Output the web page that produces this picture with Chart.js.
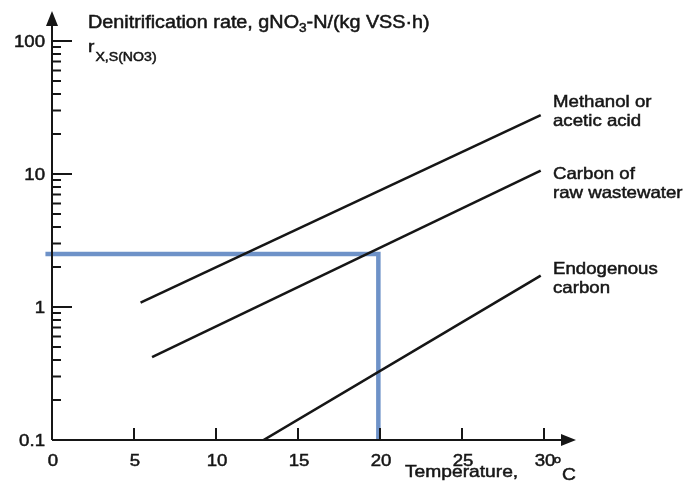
<!DOCTYPE html>
<html>
<head>
<meta charset="utf-8">
<script src="https://cdn.jsdelivr.net/npm/chart.js@4"></script>
<style>
  html, body { margin: 0; padding: 0; background: #fff; }
  canvas { display: block; }
</style>
</head>
<body>
<canvas id="chart" width="691" height="484"></canvas>
<script>
// values (temperature in C, rate on log scale)
var methanolX = [5.4, 29.8];
var methanolY = [1.08, 27.7];
var rawX = [6.1, 29.8];
var rawY = [0.42, 10.6];
var endoX = [12.9, 29.8];
var endoY = [0.1, 1.72];
// blue reading guide
var guideX = [-0.4, 19.9, 19.9];
var guideY = [2.5, 2.5, 0.1];

var xTicks = [0, 5, 10, 15, 20, 25, 30];
var yTicks = [0.1, 1, 10, 100];
var yTickLabels = ['0.1', '1', '10', '100'];
var yMinor = [2, 3, 4, 5, 6, 7, 8, 9];

var seriesLabels = [
    ['Methanol or', 'acetic acid'],
    ['Carbon of', 'raw wastewater'],
    ['Endogenous', 'carbon']
];

var SX = 1.13; // the scan is a bit stretched sideways
var FONT = '"Liberation Sans", Arial, sans-serif';
var INK = '#161616';

function pts(xs, ys) {
    return xs.map(function (x, i) { return { x: x, y: ys[i] }; });
}

function txt(ctx, s, x, y, size, align) {
    ctx.save();
    ctx.font = size + 'px ' + FONT;
    ctx.textAlign = align || 'left';
    ctx.textBaseline = 'alphabetic';
    ctx.translate(x, y);
    ctx.scale(SX, 1);
    ctx.fillText(s, 0, 0);
    // a thin stroke so the letters are as heavy as in the scan
    ctx.lineWidth = 0.5;
    ctx.strokeText(s, 0, 0);
    var w = ctx.measureText(s).width * SX;
    ctx.restore();
    return w;
}

var axesPlugin = {
    id: 'axesPlugin',
    afterDraw: function (chart) {
        var ctx = chart.ctx;
        var xs = chart.scales.x;
        var ys = chart.scales.y;
        var x0 = xs.getPixelForValue(0);
        var y0 = ys.getPixelForValue(0.1);

        ctx.save();
        ctx.strokeStyle = INK;
        ctx.fillStyle = INK;
        ctx.lineWidth = 2;

        // axis lines
        ctx.beginPath();
        ctx.moveTo(x0, y0);
        ctx.lineTo(x0, 24);
        ctx.moveTo(x0, y0);
        ctx.lineTo(563, y0);
        ctx.stroke();

        // arrow heads
        ctx.beginPath();
        ctx.moveTo(x0, 11);
        ctx.lineTo(x0 - 6, 26);
        ctx.lineTo(x0 + 6, 26);
        ctx.closePath();
        ctx.fill();
        ctx.beginPath();
        ctx.moveTo(576, y0);
        ctx.lineTo(561, y0 - 6);
        ctx.lineTo(561, y0 + 6);
        ctx.closePath();
        ctx.fill();

        // y ticks, drawn inward
        ctx.beginPath();
        yTicks.forEach(function (v, i) {
            var py = ys.getPixelForValue(v);
            if (i > 0) {
                ctx.moveTo(x0, py);
                ctx.lineTo(x0 + 20, py);
            }
            if (i < yTicks.length - 1) {
                yMinor.forEach(function (m) {
                    var my = ys.getPixelForValue(v * m);
                    ctx.moveTo(x0, my);
                    ctx.lineTo(x0 + 9, my);
                });
            }
        });
        // x ticks, upward
        xTicks.forEach(function (v, i) {
            if (i === 0) return;
            var px = xs.getPixelForValue(v);
            ctx.moveTo(px, y0);
            ctx.lineTo(px, y0 - 12);
        });
        ctx.stroke();

        // tick labels
        yTicks.forEach(function (v, i) {
            txt(ctx, yTickLabels[i], 45, ys.getPixelForValue(v) + 6, 16.5, 'right');
        });
        xTicks.forEach(function (v) {
            txt(ctx, String(v), xs.getPixelForValue(v) + 1, y0 + 26, 16.5, 'center');
        });

        // axis titles
        var w = txt(ctx, 'Denitrification rate, gNO', 88, 28, 17.5);
        w += txt(ctx, '3', 88 + w, 32, 12);
        txt(ctx, '-N/(kg VSS\u00b7h)', 88 + w, 28, 17.5);
        var wr = txt(ctx, 'r', 88, 52, 17);
        txt(ctx, 'X,S(NO3)', 88 + wr + 1, 61, 12.5);

        txt(ctx, 'Temperature,', 405, 477, 17);
        txt(ctx, 'o', 554, 463, 11);
        txt(ctx, 'C', 562, 480, 17);

        // series labels on the right
        var tops = [107, 179, 274];
        seriesLabels.forEach(function (lines, i) {
            lines.forEach(function (s, j) {
                txt(ctx, s, 553, tops[i] + j * 19, 16.5);
            });
        });
        ctx.restore();
    }
};

var ctx = document.getElementById('chart').getContext('2d');
var chart = new Chart(ctx, {
    type: 'scatter',
    data: {
        datasets: [
            {
                label: 'Methanol or acetic acid',
                data: pts(methanolX, methanolY),
                showLine: true,
                borderColor: INK,
                borderWidth: 2.6,
                pointRadius: 0
            },
            {
                label: 'Carbon of raw wastewater',
                data: pts(rawX, rawY),
                showLine: true,
                borderColor: INK,
                borderWidth: 2.6,
                pointRadius: 0
            },
            {
                label: 'Endogenous carbon',
                data: pts(endoX, endoY),
                showLine: true,
                borderColor: INK,
                borderWidth: 2.6,
                pointRadius: 0
            },
            {
                label: 'guide',
                data: pts(guideX, guideY),
                showLine: true,
                borderColor: '#6e92c8',
                borderWidth: 4.5,
                borderJoinStyle: 'miter',
                pointRadius: 0,
                clip: false
            }
        ]
    },
    options: {
        responsive: false,
        animation: false,
        layout: { padding: { left: 52, right: 147, top: 41, bottom: 44 } },
        plugins: { legend: { display: false }, tooltip: { enabled: false } },
        scales: {
            x: { type: 'linear', min: 0, max: 30, display: false },
            y: { type: 'logarithmic', min: 0.1, max: 100, display: false }
        }
    },
    plugins: [axesPlugin]
});
</script>
</body>
</html>
